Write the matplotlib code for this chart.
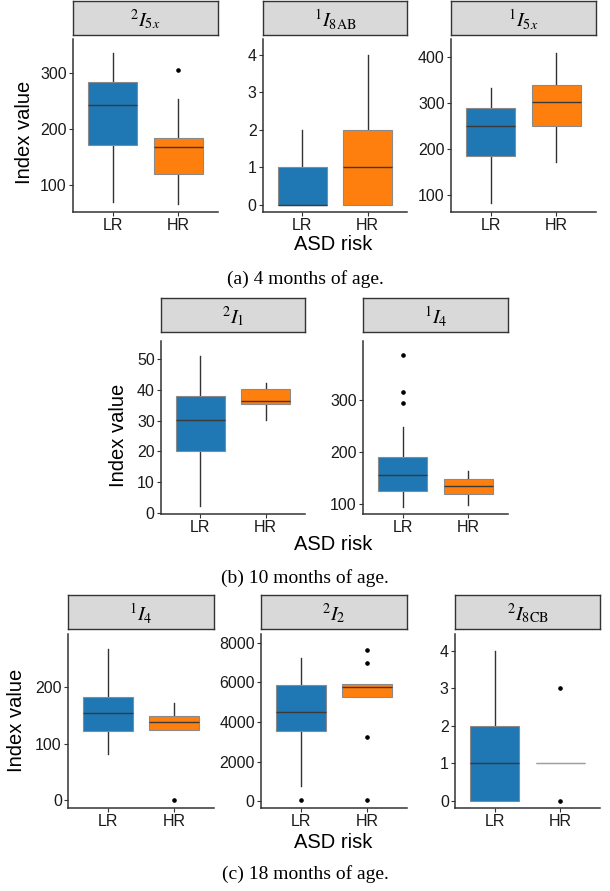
import matplotlib
matplotlib.use('Agg')
import matplotlib.pyplot as plt

plt.rcParams['font.family'] = ['Liberation Sans', 'DejaVu Sans']
plt.rcParams['mathtext.fontset'] = 'stix'

W, H = 610, 891

groups = ['LR', 'HR']
lr_color = '#1f77b4'
hr_color = '#ff7f0e'

panel_titles = [r'$^{2}I_{5x}$', r'$^{1}I_{\mathrm{8AB}}$', r'$^{1}I_{5x}$',
                r'$^{2}I_{1}$', r'$^{1}I_{4}$',
                r'$^{1}I_{4}$', r'$^{2}I_{2}$', r'$^{2}I_{\mathrm{8CB}}$']

# whislo, q1, median, q3, whishi
lr_box = [[70, 172, 243, 283, 335],
          [0, 0, 0, 1, 2],
          [82, 185, 249, 288, 333],
          [2.2, 20.1, 30.1, 38.1, 51],
          [95, 125, 156, 190, 249],
          [81, 122, 154, 183, 267],
          [750, 3545, 4526, 5848, 7240],
          [0, 0, 1, 2, 4]]
hr_box = [[66, 119, 167, 184, 253],
          [0, 0, 1, 2, 4],
          [171, 249, 303, 338, 409],
          [30.2, 35.3, 36.3, 40.2, 42.2],
          [99, 120, 135.5, 148, 163],
          [124, 124, 138, 149, 171],
          [5277, 5277, 5783, 5934, 5934],
          [1, 1, 1, 1, 1]]
lr_fliers = [[], [], [], [], [386, 315, 294], [], [50], []]
hr_fliers = [[305], [], [], [], [], [0], [7663, 6990, 3240, 50], [3, 0]]

yticks = [[100, 200, 300], [0, 1, 2, 3, 4], [100, 200, 300, 400],
          [0, 10, 20, 30, 40, 50], [100, 200, 300],
          [0, 100, 200], [0, 2000, 4000, 6000, 8000], [0, 1, 2, 3, 4]]
ylims = [(52, 360), (-0.2, 4.42), (63, 439),
         (-0.4, 56), (81, 413.6),
         (-13.4, 293.5), (-354, 8455), (-0.19, 4.44)]

# pixel boxes: axes (left, top, right, bottom), strip top/bottom
axes_px = [(73, 39, 218, 212), (263, 39, 407, 212), (451, 39, 596, 212),
           (161, 341, 305, 514), (363, 341, 508, 514),
           (68, 634, 214, 808), (261, 634, 407, 808), (455, 634, 600, 808)]
strip_px = [(1, 35), (1, 35), (1, 35),
            (298, 332), (298, 332),
            (595, 629), (595, 629), (595, 629)]


def rect(l, t, r, b):
    return [l / W, 1 - b / H, (r - l) / W, (b - t) / H]


fig = plt.figure(figsize=(W / 100, H / 100), dpi=100)

for i in range(len(panel_titles)):
    l, t, r, b = axes_px[i]
    ax = fig.add_axes(rect(l, t, r, b))
    stats = []
    for box, fl, name in [(lr_box[i], lr_fliers[i], groups[0]),
                          (hr_box[i], hr_fliers[i], groups[1])]:
        stats.append(dict(whislo=box[0], q1=box[1], med=box[2], q3=box[3],
                          whishi=box[4], fliers=fl, label=name))
    bp = ax.bxp(stats, positions=[1, 2], widths=0.75, patch_artist=True,
                showcaps=False,
                boxprops=dict(edgecolor='#8a8a8a', linewidth=0.8),
                medianprops=dict(color='#3a3a3a', linewidth=1.0),
                whiskerprops=dict(color='#333333', linewidth=1.0),
                flierprops=dict(marker='o', markersize=2.3, markerfacecolor='black',
                                markeredgecolor='black', linestyle='none'))
    for patch, c in zip(bp['boxes'], [lr_color, hr_color]):
        patch.set_facecolor(c)
        patch.set_zorder(2)
    for w in bp['whiskers']:
        w.set_zorder(1)
    # a box collapsed to one value shows only its grey outline
    for med, st in zip(bp['medians'], stats):
        if st['q1'] == st['q3']:
            med.set_color('#a0a0a0')

    ax.set_xlim(0.4, 2.6)
    ax.set_ylim(*ylims[i])
    ax.set_yticks(yticks[i])
    ax.set_xticks([1, 2])
    ax.set_xticklabels(groups)
    for s in ['top', 'right']:
        ax.spines[s].set_visible(False)
    for s in ['left', 'bottom']:
        ax.spines[s].set_color('#333333')
        ax.spines[s].set_linewidth(1.1)
    ax.tick_params(axis='both', labelsize=11.5, length=3, width=0.8,
                   color='#333333', labelcolor='#1a1a1a', pad=1.5)

    st, sb = strip_px[i]
    sax = fig.add_axes(rect(l, st, r, sb))
    sax.set_facecolor('#d9d9d9')
    sax.set_xticks([])
    sax.set_yticks([])
    for s in sax.spines.values():
        s.set_color('#333333')
        s.set_linewidth(1.0)
    sax.text(0.5, 0.45, panel_titles[i], ha='center', va='center',
             fontsize=14.5, transform=sax.transAxes)

# axis titles
for x, y in [(25, 132), (119, 435), (17, 720)]:
    fig.text(x / W, 1 - y / H, 'Index value', rotation=90, ha='center',
             va='center', fontsize=14.5)
for y in [245, 545, 843]:
    fig.text(333.5 / W, 1 - y / H, 'ASD risk', ha='center', va='center',
             fontsize=14.5)

captions = ['(a) 4 months of age.', '(b) 10 months of age.', '(c) 18 months of age.']
for cap, y in zip(captions, [279, 578, 874]):
    fig.text(305 / W, 1 - y / H, cap, ha='center', va='center', fontsize=14,
             family='Liberation Serif')

plt.savefig('out.png', dpi=100)
